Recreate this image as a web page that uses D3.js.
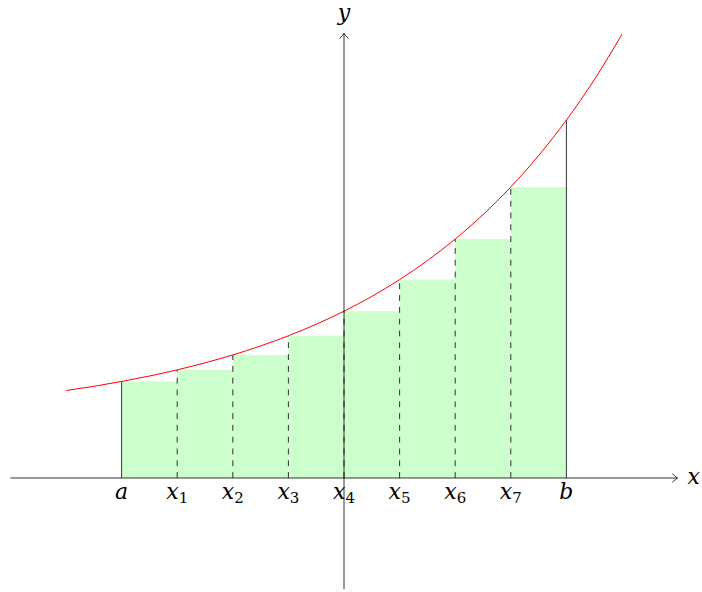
<!DOCTYPE html>
<html><head><meta charset="utf-8">
<script src="https://cdn.jsdelivr.net/npm/d3@7"></script>
<style>html,body{margin:0;padding:0;background:#fff;}svg{display:block;}</style>
</head><body>
<svg id="c" width="702" height="592"></svg>
<script>
// Partition points (data units) and their labels
const partitionX = [-4, -3, -2, -1, 0, 1, 2, 3, 4];
const partitionLabels = [["a",""],["x","1"],["x","2"],["x","3"],["x","4"],["x","5"],["x","6"],["x","7"],["b",""]];
// Curve value at each partition point
const partitionY = [1.736, 1.945, 2.213, 2.558, 3.0, 3.568, 4.297, 5.234, 6.437];
// Sampled curve points
const curveX = [-5,-4.5,-4,-3.5,-3,-2.5,-2,-1.5,-1,-0.5,0,0.5,1,1.5,2,2.5,3,3.5,4,4.5,5];
const curveY = [1.573,1.649,1.736,1.834,1.945,2.071,2.213,2.375,2.558,2.765,3.0,3.266,3.568,3.910,4.297,4.736,5.234,5.798,6.437,7.160,7.981];

const svg = d3.select("#c");
const x = d3.scaleLinear().domain([-6, 6]).range([10.4, 677.6]);
const y = d3.scaleLinear().domain([-2, 8]).range([589.2, 33.2]);
const font = "'DejaVu Serif', 'Liberation Serif', serif";

// Bars (left Riemann sums)
const bars = d3.range(partitionX.length - 1).map(i => ({x0: partitionX[i], x1: partitionX[i+1], h: partitionY[i]}));
svg.append("g").selectAll("rect").data(bars).join("rect")
  .attr("x", d => x(d.x0)).attr("width", d => x(d.x1) - x(d.x0))
  .attr("y", d => y(d.h)).attr("height", d => y(0) - y(d.h))
  .attr("fill", "#ccffcc");

// Vertical lines
svg.append("g").selectAll("line").data(partitionX.map((v,i)=>({v, f: partitionY[i], i}))).join("line")
  .attr("x1", d => x(d.v)).attr("x2", d => x(d.v))
  .attr("y1", y(0)).attr("y2", d => y(d.f))
  .attr("stroke", "#000").attr("stroke-width", 0.8)
  .attr("stroke-dasharray", d => (d.i === 0 || d.i === partitionX.length - 1) ? null : "5.9,5.9");

// Curve
const line = d3.line().x(d => x(d[0])).y(d => y(d[1])).curve(d3.curveMonotoneX);
svg.append("path").datum(curveX.map((v,i)=>[v, curveY[i]]))
  .attr("d", line).attr("fill", "none").attr("stroke", "red").attr("stroke-width", 1);

// Axes
function arrowHead(px, py, dir) {
  const g = svg.append("path").attr("fill","none").attr("stroke","#000").attr("stroke-width",0.8)
    .attr("stroke-linecap","round");
  if (dir === "right") {
    g.attr("d", `M${px-5},${py-4} Q${px-1.5},${py-0.8} ${px},${py} Q${px-1.5},${py+0.8} ${px-5},${py+4}`);
  } else {
    g.attr("d", `M${px-4},${py+5} Q${px-0.8},${py+1.5} ${px},${py} Q${px+0.8},${py+1.5} ${px+4},${py+5}`);
  }
}
svg.append("line").attr("x1", x(-6)).attr("x2", x(6)).attr("y1", y(0)).attr("y2", y(0))
  .attr("stroke","#000").attr("stroke-width",0.8);
arrowHead(x(6), y(0), "right");
svg.append("line").attr("x1", x(0)).attr("x2", x(0)).attr("y1", y(-2)).attr("y2", y(8))
  .attr("stroke","#000").attr("stroke-width",0.8);
arrowHead(x(0), y(8), "up");

// Axis labels
svg.append("text").attr("x", x(6) + 16).attr("y", y(0) + 6).attr("text-anchor","middle")
  .attr("font-family", font).attr("font-style","italic").attr("font-size", 22).text("x");
svg.append("text").attr("x", x(0)).attr("y", 20).attr("text-anchor","middle")
  .attr("font-family", font).attr("font-style","italic").attr("font-size", 22).text("y");

// Partition labels
const lab = svg.append("g").selectAll("text").data(partitionLabels.map((l,i)=>({l, v: partitionX[i]}))).join("text")
  .attr("x", d => x(d.v)).attr("y", 499).attr("text-anchor","middle")
  .attr("font-family", font).attr("font-size", 22);
lab.append("tspan").attr("font-style","italic").text(d => d.l[0]);
lab.append("tspan").attr("font-size", 15).attr("dy", 4).text(d => d.l[1]);
</script>
</body></html>
